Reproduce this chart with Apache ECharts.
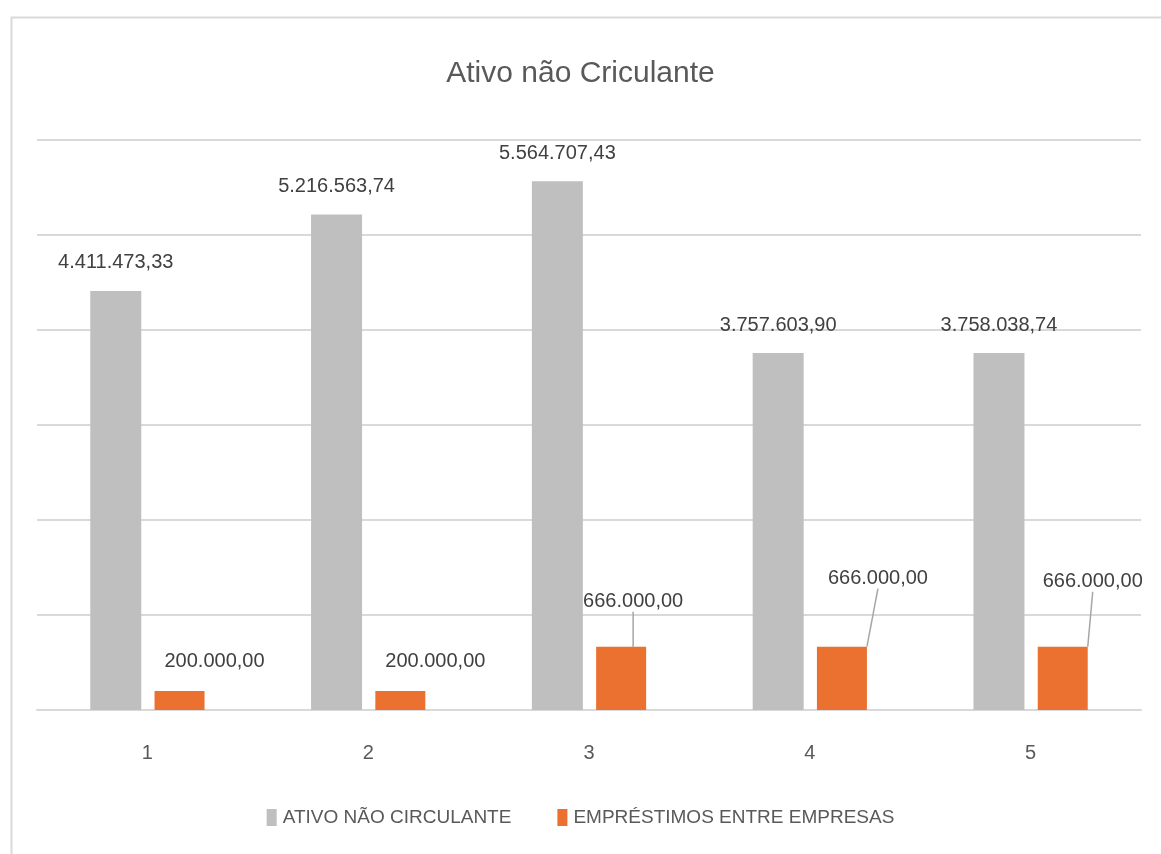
<!DOCTYPE html>
<html>
<head>
<meta charset="utf-8">
<script src="https://cdn.jsdelivr.net/npm/echarts@6/dist/echarts.min.js"></script>
<style>
  html, body { margin: 0; padding: 0; background: #fff; }
  #chart { width: 1161px; height: 854px; }
</style>
</head>
<body>
<div id="chart"></div>
<script>
// dados do gráfico
const categorias = ['1', '2', '3', '4', '5'];
const ativoNaoCirculante = [4411473.33, 5216563.74, 5564707.43, 3757603.90, 3758038.74];
const emprestimos = [200000, 200000, 666000, 666000, 666000];
const nomesSeries = ['ATIVO NÃO CIRCULANTE', 'EMPRÉSTIMOS ENTRE EMPRESAS'];

const fonte = "'Liberation Sans Narrow', 'Liberation Sans', sans-serif";

// formata no padrão brasileiro 1.234.567,89
function formatoBR(v) {
  const partes = v.toFixed(2).split('.');
  partes[0] = partes[0].replace(/\B(?=(\d{3})+(?!\d))/g, '.');
  return partes[0] + ',' + partes[1];
}

// deslocamento dos rótulos laranja (como no Excel)
const deslocRotulo = [[35, -15], [35, -15], [12, -30], [36, -53], [30, -50]];

const myChart = echarts.init(document.getElementById('chart'), null, { renderer: 'canvas' });

const option = {
  animation: false,
  textStyle: { fontFamily: fonte },
  title: {
    text: 'Ativo não Criculante',
    left: 'center',
    top: 54,
    textStyle: { color: '#595959', fontWeight: 'normal', fontSize: 30, fontFamily: fonte }
  },
  graphic: [{
    type: 'rect',
    left: 9, top: 15,
    shape: { width: 1300, height: 1000 },
    style: { fill: 'none', stroke: '#d9d9d9', lineWidth: 2 },
    silent: true,
    z: -10
  }],
  legend: {
    data: nomesSeries,
    bottom: 22,
    left: 'center',
    icon: 'rect',
    itemWidth: 10,
    itemHeight: 17,
    itemGap: 46,
    textStyle: { color: '#595959', fontSize: 19, fontFamily: fonte, padding: [0, 0, 0, 1] }
  },
  color: ['#bfbfbf', '#ea7130'],
  grid: { left: 37, right: 20, top: 140, bottom: 144, containLabel: false },
  xAxis: {
    type: 'category',
    data: categorias,
    axisTick: { show: false },
    axisLine: { lineStyle: { color: '#d9d9d9', width: 2 } },
    axisLabel: { color: '#595959', fontSize: 20, margin: 33, fontFamily: fonte }
  },
  yAxis: {
    type: 'value',
    min: 0,
    max: 6000000,
    interval: 1000000,
    axisLabel: { show: false },
    axisLine: { show: false },
    axisTick: { show: false },
    splitLine: { lineStyle: { color: '#d9d9d9', width: 2 } }
  },
  series: [
    {
      name: nomesSeries[0],
      type: 'bar',
      data: ativoNaoCirculante,
      barWidth: 51,
      barGap: '26%',
      label: {
        show: true,
        position: 'top',
        distance: 18,
        color: '#404040',
        fontSize: 20,
        fontFamily: fonte,
        formatter: p => formatoBR(p.value)
      }
    },
    {
      name: nomesSeries[1],
      type: 'bar',
      data: emprestimos.map((v, i) => ({ value: v, labelLine: { show: i >= 2 } })),
      barWidth: 50,
      label: {
        show: true,
        position: 'top',
        distance: 5,
        color: '#404040',
        fontSize: 20,
        fontFamily: fonte,
        formatter: p => formatoBR(p.value)
      },
      labelLine: { lineStyle: { color: '#a6a6a6', width: 1.5 } },
      labelLayout: function (params) {
        const d = deslocRotulo[params.dataIndex] || [0, 0];
        return { dx: d[0], dy: d[1] };
      }
    }
  ]
};

myChart.setOption(option, true);
window.addEventListener('resize', function () {
  myChart.resize();
});
</script>
</body>
</html>
